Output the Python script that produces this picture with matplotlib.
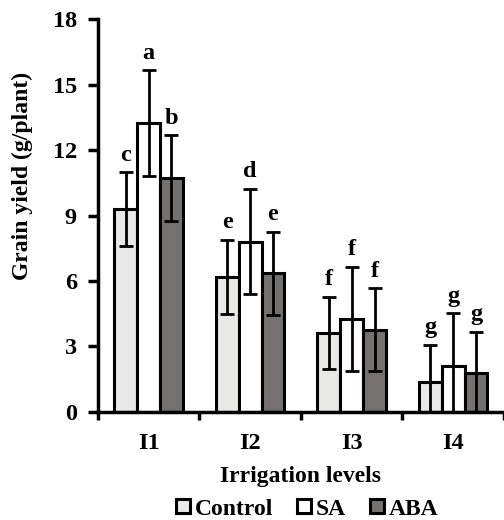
import numpy as np
import matplotlib
matplotlib.use('Agg')
import matplotlib.pyplot as plt
from matplotlib.lines import Line2D

plt.rcParams['font.family'] = ['Liberation Serif', 'DejaVu Serif']
plt.rcParams['font.weight'] = 'bold'

levels = ['I1', 'I2', 'I3', 'I4']
treatments = ['Control', 'SA', 'ABA']
control = [9.3, 6.2, 3.63, 1.39]
sa = [13.24, 7.8, 4.26, 2.1]
aba = [10.72, 6.35, 3.76, 1.77]
control_err = [1.68, 1.7, 1.65, 1.68]
sa_err = [2.43, 2.42, 2.4, 2.42]
aba_err = [1.97, 1.9, 1.9, 1.9]
letters_control = ['c', 'e', 'f', 'g']
letters_sa = ['a', 'd', 'f', 'g']
letters_aba = ['b', 'e', 'f', 'g']

colors = ['#e8e8e6', '#ffffff', '#747170']
series = [control, sa, aba]
errors = [control_err, sa_err, aba_err]
letters = [letters_control, letters_sa, letters_aba]

fig = plt.figure(figsize=(5.04, 5.2), dpi=100)
ax = fig.add_axes([0.194, 0.208, 0.806, 0.755])

x = np.arange(len(levels)) + 0.5
w = 0.225
for i in range(3):
    pos = x + (i - 1) * w
    ax.bar(pos, series[i], w, color=colors[i], edgecolor='black', linewidth=2.2, zorder=2)
    ax.errorbar(pos, series[i], yerr=errors[i], fmt='none', ecolor='black',
                elinewidth=2, capsize=5, capthick=2, zorder=3)
    for p, v, e, t in zip(pos, series[i], errors[i], letters[i]):
        ax.text(p, v + e + 0.3, t, ha='center', va='bottom', fontsize=17.5, fontweight='bold')

ax.set_xlim(0, 4)
ax.set_ylim(0, 18)
ax.set_yticks(np.arange(0, 19, 3))
ax.set_xticks(np.arange(0, 5), minor=False)
ax.set_xticklabels([])
ax.set_xticks(x, minor=True)
ax.set_xticklabels(levels, minor=True)
ax.tick_params(axis='x', which='minor', length=0, pad=15, labelsize=17.5)
ax.tick_params(axis='x', which='major', length=6, width=2.5)
ax.tick_params(axis='y', length=7, width=2.5, labelsize=17.5, pad=8)
for s in ['top', 'right']:
    ax.spines[s].set_visible(False)
for s in ['left', 'bottom']:
    ax.spines[s].set_linewidth(2.5)

ax.set_ylabel('Grain yield (g/plant)', fontsize=17, fontweight='bold')
ax.yaxis.set_label_coords(-0.16, 0.6)
ax.set_xlabel('Irrigation levels', fontsize=17, fontweight='bold', labelpad=9)

handles = [Line2D([], [], marker='s', linestyle='none', markersize=10,
                  markerfacecolor=c, markeredgecolor='black', markeredgewidth=2.2)
           for c in colors]
fig.legend(handles, treatments, loc='lower center', bbox_to_anchor=(0.605, -0.04), ncol=3,
           frameon=False, fontsize=17, handletextpad=0.0, columnspacing=0.8, handlelength=1.0)

fig.savefig('out.png', dpi=100)
